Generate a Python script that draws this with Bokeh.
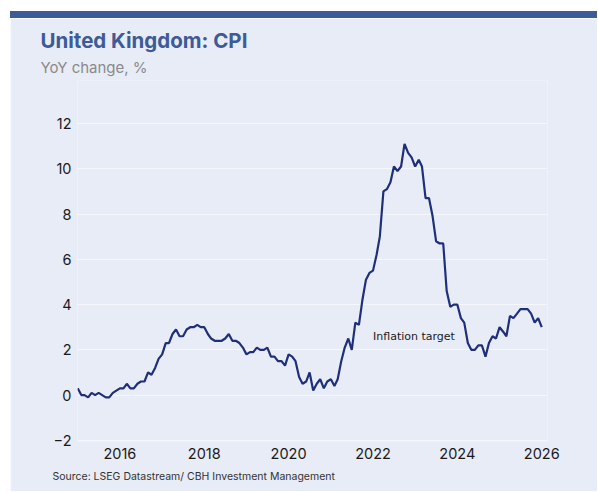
import pandas as pd
from bokeh.plotting import figure
from bokeh.models import Range1d, FixedTicker, DatetimeTickFormatter, Label, Div, ColumnDataSource, Title
from bokeh.layouts import column
from bokeh.embed import file_html
from bokeh.resources import INLINE

# UK CPI, YoY change %, monthly Jan 2015 - Jan 2026
cpi_2015 = [0.3, 0.0, 0.0, -0.1, 0.1, 0.0, 0.1, 0.0, -0.1, -0.1, 0.1, 0.2]
cpi_2016 = [0.3, 0.3, 0.5, 0.3, 0.3, 0.5, 0.6, 0.6, 1.0, 0.9, 1.2, 1.6]
cpi_2017 = [1.8, 2.3, 2.3, 2.7, 2.9, 2.6, 2.6, 2.9, 3.0, 3.0, 3.1, 3.0]
cpi_2018 = [3.0, 2.7, 2.5, 2.4, 2.4, 2.4, 2.5, 2.7, 2.4, 2.4, 2.3, 2.1]
cpi_2019 = [1.8, 1.9, 1.9, 2.1, 2.0, 2.0, 2.1, 1.7, 1.7, 1.5, 1.5, 1.3]
cpi_2020 = [1.8, 1.7, 1.5, 0.8, 0.5, 0.6, 1.0, 0.2, 0.5, 0.7, 0.3, 0.6]
cpi_2021 = [0.7, 0.4, 0.7, 1.5, 2.1, 2.5, 2.0, 3.2, 3.1, 4.2, 5.1, 5.4]
cpi_2022 = [5.5, 6.2, 7.0, 9.0, 9.1, 9.4, 10.1, 9.9, 10.1, 11.1, 10.7, 10.5]
cpi_2023 = [10.1, 10.4, 10.1, 8.7, 8.7, 7.9, 6.8, 6.7, 6.7, 4.6, 3.9, 4.0]
cpi_2024 = [4.0, 3.4, 3.2, 2.3, 2.0, 2.0, 2.2, 2.2, 1.7, 2.3, 2.6, 2.5]
cpi_2025 = [3.0, 2.8, 2.6, 3.5, 3.4, 3.6, 3.8, 3.8, 3.8, 3.6, 3.2, 3.4]
cpi_2026 = [3.0]

cpi = (cpi_2015 + cpi_2016 + cpi_2017 + cpi_2018 + cpi_2019 + cpi_2020 +
       cpi_2021 + cpi_2022 + cpi_2023 + cpi_2024 + cpi_2025 + cpi_2026)
months = pd.date_range("2015-01-01", periods=len(cpi), freq="MS")

x_tick_years = [2016, 2018, 2020, 2022, 2024, 2026]
y_ticks = [-2, 0, 2, 4, 6, 8, 10, 12]

target_label = "Inflation target"
target_x = pd.Timestamp("2022-01-01")
target_y = 2.6

title_text = "United Kingdom: CPI"
subtitle_text = "YoY change, %"
source_text = "Source: LSEG Datastream/ CBH Investment Management"

BG = "#e8ecf6"
NAVY = "#1f2f7a"
BAR = "#3d5a99"

src = ColumnDataSource(dict(x=months, y=cpi))

p = figure(width=587, height=473, x_axis_type="datetime",
           output_backend="svg", toolbar_location=None,
           x_range=Range1d(pd.Timestamp("2014-12-30"), pd.Timestamp("2026-02-20")),
           y_range=Range1d(-2.05, 13.9),
           min_border_left=67, min_border_right=50,
           min_border_top=62, min_border_bottom=50,
           background_fill_color=BG, border_fill_color=BG,
           outline_line_color=None)
p.margin = (0, 0, 0, 10)

p.line("x", "y", source=src, line_color=NAVY, line_width=2.2)

p.xaxis.ticker = FixedTicker(ticks=[pd.Timestamp(f"{y}-01-01").value / 1e6 for y in x_tick_years])
fmt = "%Y"
p.xaxis.formatter = DatetimeTickFormatter(years=fmt, months=fmt, days=fmt, hours=fmt,
                                          minutes=fmt, seconds=fmt, milliseconds=fmt)
p.yaxis.ticker = FixedTicker(ticks=y_ticks)

for ax in (p.xaxis[0], p.yaxis[0]):
    ax.axis_line_color = None
    ax.major_tick_line_color = None
    ax.minor_tick_line_color = None
    ax.major_tick_out = 0
    ax.major_tick_in = 0
    ax.minor_tick_out = 0
    ax.minor_tick_in = 0
    ax.major_label_text_font = "Inter"
    ax.major_label_text_font_size = "14.5px"
    ax.major_label_text_color = "#1a1a1a"
p.xaxis.major_label_standoff = 6
p.yaxis.major_label_standoff = 6

p.xgrid.grid_line_color = None
p.ygrid.grid_line_color = "#f5f7fb"
p.ygrid.grid_line_width = 1

p.add_layout(Label(x=target_x, y=target_y, text=target_label,
                   text_font="DejaVu Sans", text_font_size="11px",
                   text_color="#1a1a1a", text_baseline="middle", text_align="left"))

p.add_layout(Title(text=subtitle_text, align="left", offset=-37, standoff=7,
                   text_font="Inter", text_font_size="15px", text_font_style="normal",
                   text_line_height=0.7,
                   text_color="#8a8a8a"), "above")
p.add_layout(Title(text=title_text, align="left", offset=-37, standoff=0,
                   text_font="Inter", text_font_size="20.5px", text_font_style="bold",
                   text_color=BAR), "above")
p.add_layout(Title(text=source_text, align="left", offset=-25, standoff=12,
                   text_font="Inter", text_font_size="10.5px", text_font_style="normal",
                   text_color="#333333"), "below")

bar = Div(text="", width=587, height=7, margin=(11, 0, 0, 10),
          styles={"background-color": BAR})

layout = column(bar, p, spacing=0)

open("out.html", "w").write(file_html(layout, INLINE))
